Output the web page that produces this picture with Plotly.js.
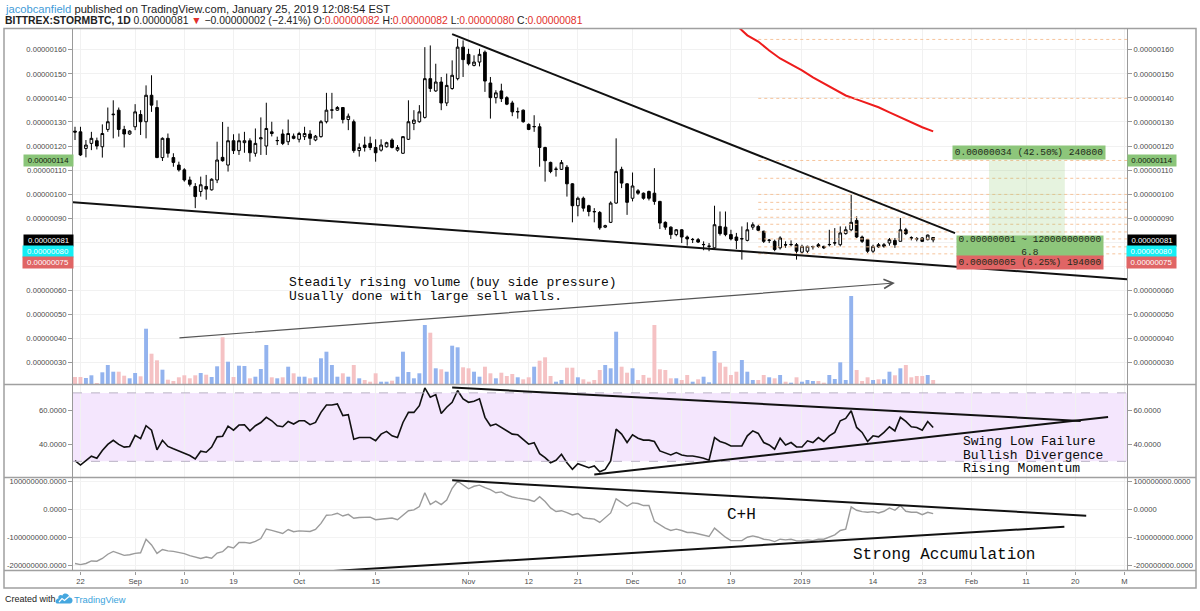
<!DOCTYPE html>
<html><head><meta charset="utf-8">
<script src="https://cdn.plot.ly/plotly-3.0.1.min.js"></script>
<style>html,body{margin:0;padding:0;background:#fff;}#chart{width:1200px;height:611px;}</style>
</head><body><div id="chart"></div>
<script>
// ---------- DATA (prices in satoshi, 1e-8 BTC) ----------
const startDate = '2018-08-21';
const open = [126.2,125.9,119,121.1,122.2,119.7,126.9,133,134.9,126.9,125,128,133.1,130.1,141.1,136,115.2,123.2,115.2,112.1,110.1,105.9,103.2,101.1,103.2,101.8,105.9,115.3,112.1,122.2,118.1,121.4,122.2,117,123,120,125.9,122.2,125,121.8,124.1,122.8,123.9,125,122.5,123.9,130.1,134.9,134.9,136,131,130.1,118.1,120.4,121.1,119.4,118.3,119.7,122.5,118.3,117,122.8,129.4,130.1,131.9,148,142.9,146.6,137.9,143.9,148,161.1,158.1,153.5,154.9,159,146.2,140.1,142.9,140.1,137.9,134.2,134.9,129,128,128,119.4,113.2,110.3,110.3,111.2,104.3,95.2,98.3,95.2,92.8,92.4,86.3,88.3,96.3,110.3,104.3,98.3,101.4,100.4,101.1,100.4,97,88.3,86.3,83.2,85.2,82.2,81.1,81.1,79,78.3,77.7,86.6,86.3,83.2,82.2,81.4,80.8,86.3,86.6,84.6,80.8,80.4,77.7,79,79,79,75.9,76.3,78.1,79,78.3,79,79.7,79,83.6,85.2,89.1,82.2,81.1,76.3,79,78.3,79.7,80.8,80.4,85.2,81.9,81.5,81.8,81.1,82];
const high = [128,128,122.5,125.9,123.5,129,136,139,136,128.4,126.6,137.4,134.9,145.2,149.4,139,123.6,125.2,117,113.5,110.8,107.3,104.6,107.3,108,106.6,121.8,130,128,124.9,125.2,125.9,123.2,127.3,131.9,138,130.1,123.9,126.9,131,125.2,125.9,128,126.6,124.6,130.8,142.1,142.1,136.6,136.2,133.5,131,121.1,123.9,123.9,122.8,122.8,121.8,123.2,120.4,124.1,139,134.9,137,161.1,161.8,154.2,148.7,150.1,155.6,164.6,163.9,160.4,157.7,160.4,159.7,148.7,143.2,145.9,140.7,138.8,136,135.2,129.4,132.8,129.4,119.7,113.5,111.4,114.2,112.1,104.6,99,99,95.6,94.2,93,87.3,97,123.2,111.4,104.6,109,102.1,100.7,101.5,110.8,97.2,88.7,86.6,85.5,85.5,82.8,81.8,81.8,80.4,79.7,95.2,92.8,92.8,85.2,83.9,86.6,88.3,88.3,87.3,84.8,81.4,81.1,82.5,80.4,80.8,79.7,79,78.6,78.6,79.7,78.6,85.2,85.9,86.6,86.6,99.7,90.8,82.8,81.4,79,79.7,79.7,81.8,81.8,90.1,86,82.5,82.2,82.2,83.2,82];
const low = [122.5,115.9,115.3,118.3,118.6,115.2,125.9,123.2,123.9,119.4,124.6,126.6,124.6,123.2,134.2,115,113.8,115.2,111.4,109.4,105.2,103.2,94.2,99,97.7,101.5,104.6,113.5,109.4,116.7,116.3,117.2,113.5,115.6,116.3,116.3,124,120.4,120.4,120.4,122.8,121.5,122.5,120.4,122,123.5,129.4,131.4,134.6,129.4,126.6,117.2,115.6,117.7,118.3,113.5,117.7,119.4,119,117.7,116.7,122.5,126.6,129.7,131.4,142.5,142.5,134.9,136.6,143.4,147.3,148.7,153.5,153.1,153.1,142.5,131.4,137.7,138.3,137,132.4,131.4,129.7,126.6,125.9,111.4,105.2,108.7,107.3,110.1,99,88.3,90.8,92.8,90.8,88.3,85.2,85.9,88,96,102.5,91.4,97,99.7,97.7,97.4,95.6,85.5,85.2,81.4,82.5,79.7,78.6,79.7,79.7,76.7,76.3,77,82.8,82.5,80.8,77.2,72.8,80.4,85.2,84.6,79.7,79.7,76.3,77,77.7,78.3,72.8,75.3,75.6,77,77.7,77.2,78.3,78.6,78.3,83.2,84.6,81.8,79.7,75.6,75.6,77.7,77.7,78.6,77.7,80.4,83,80.8,80.4,80.1,80.8,80];
const close = [125.8,116.3,120.4,123.2,120,125.2,130.1,133.2,126.9,125,126.2,134.2,130.1,141.1,137,115.2,123.2,117,113.2,110.1,105.9,104.1,99,103.9,102.1,106.2,114.2,113.9,122.2,118.1,122.2,122.2,117.2,121.1,123.4,127.3,125.2,122.3,121.1,125.2,123.2,125.2,125.2,123.2,124.1,130.1,134.9,135,136,131,132.4,118.1,119.4,119.4,119.4,117.2,120.4,121.4,119.4,119.4,123.9,130.1,130.8,134.2,148,143.9,146.6,137.9,145.2,149.4,161.1,155.9,154.2,154.9,158.1,147,140.1,142.1,139.7,137.4,134.2,134.3,130.1,126.9,128.1,119.4,113.9,109.4,110.4,113.1,104.3,95.2,98.3,94.2,92.8,92.7,86,86.9,96.3,109.4,104.6,96.6,103.4,100.4,98.3,98.3,97,88,86.3,83.2,85.2,82.2,81.4,81.2,80.1,79.1,78.4,87.3,83.6,83.2,81.4,80.8,81.5,85.2,87.3,85,80.4,80.9,77,81.8,78.9,79.1,76.3,78.3,78.3,78.2,78.3,77.7,79.1,79.8,83.9,85.2,88.3,82.2,80.4,76.3,78.3,78.1,79,81.1,79,85.2,83.6,81.8,81.4,80.4,83,81];
// volume (relative units)
const volume = [7,7,6,8.7,1,11.7,19,12.3,12.3,8.3,5.7,11,7.7,55.3,30.3,23.7,14.3,4.3,3,6.7,8.7,5.7,8.7,11,9.3,7,17.7,46.7,22.3,7,18.3,
18,5.7,7.3,15,39,6.7,5.7,6.7,17.3,10.7,7.3,7.3,5.7,6.7,25.7,32.3,19,7.3,10.7,7.3,19,5.7,4,2.3,10.7,2.3,2.3,3.3,7.3,
32.3,12,5.7,10.7,59,51.3,15.7,14.7,12.3,38.3,36.7,16.7,15.7,12.3,7.3,17.3,10.7,5.7,11.3,8,10,6.7,4.7,6.7,17.3,23.3,26.7,8,2.3,4,16.3,16.3,6.7,4.7,2.3,4,14,
19,15.7,52.3,17.3,11.3,15.7,4,9,6.3,59,14.7,14,5.7,5.7,4,9,2.3,4.7,7.3,1.7,33,21.3,17.3,9,12.3,24,12.3,4,4,9,6.7,5.7,9,2.3,1.3,6.7,2.3,4,3,3,1.3,9,5,21.7,4,88,14,3,6.7,4,4.7,4.7,12.3,8.7,15.7,19,6.7,8,8,9,4];
const rsi = [30.4,27.8,30.4,33,31.8,36.3,39.9,42.3,39.9,38.3,38.7,45.2,43.3,50.8,48.2,36.7,42.3,38.7,37.3,35.9,34.4,33.4,31.4,35.9,35.3,38.3,44.3,44.7,50.6,48.2,
51.2,51.4,47.8,50.8,52.7,55.7,53.7,50.8,50.2,53.3,51.8,53.7,53.7,51.4,52.7,58.6,62.9,62.9,63.5,56.7,57.3,42.9,43.9,43.9,43.9,42,45.9,47.5,44.9,43.9,
52.7,58.6,58.6,62.5,72.9,67.5,69,58,61.6,64.5,71.4,66.5,64.5,65.1,66.5,55.7,50.8,51.8,49.8,47.8,45.9,45.5,42.9,40,40.9,34.5,32.2,29.2,30.6,34.1,
29.2,25.3,28.6,27.3,26.3,27.3,
23.9,25.3,30.2,48.8,45.9,41,45.5,43.5,42.4,42.4,41.6,36.1,35.1,33.7,35.1,33.7,33.1,33.1,32.5,31.8,30.6,43.9,41.6,40.6,39,39,39,44.9,47.8,46.3,
41,39.6,37.1,43.5,39.6,41,38.4,38.4,42,41,43.9,41.6,44.9,46.9,53.7,55.1,59.6,49.8,46.9,41.6,44.9,44.3,46.9,50.2,47.8,55.7,53.3,50.2,49.8,48.2,53.3,49.8];
// OBV in millions
const obv = [-193,-197,-193,-184,-185,-175,-160,-150,-157,-164,-162,-157,-155,-107,-127,-157,-143,-148,-150,-153,
-158,-165,-171,-175,-170,-174,-156,-151,-133,-138,-118,-118,-121,-114,-104,-70,-75,-80,-86,-72,
-80,-77,-77,-79,-72,-50,-21,-20,-14,-24,-18,-32,-29,-28,-28,-37,-35,-34,-31,-37,
-22,-5,-2,10,59,17,29,17,33,75,100,85,73,82,86,77,70,59,62,51,44,40,37,34,28,45,28,5,-8,-5,-12,-20,-15,-30,-33,-35,
-46.7,-31,-13,37.3,22.9,10.9,22.9,20.5,13.3,13.3,-43,-55,-67,-75.5,-70.7,-75.5,-82.6,-82.6,-87.4,-94.6,-97,-67,-85,-99.4,-111.4,-111.4,-111.4,-99.4,-94.6,-99.4,
-106.6,-109,-115,-106.6,-109,-106.6,-112.6,-111.4,-109,-111.4,-106.6,-106.6,-99.4,-91,-75.5,-70.7,8.5,-3.5,-8.3,-10.7,-8.3,-13,-7,4.9,-3.5,13.3,-7,-10.7,-10.7,-19.1,-10.7,-15.5];
// red moving average
const maDates = ['2018-12-20','2018-12-22','2018-12-24','2018-12-26','2018-12-28','2018-12-30','2019-01-01','2019-01-03','2019-01-05','2019-01-07','2019-01-09','2019-01-11','2019-01-13','2019-01-15','2019-01-17','2019-01-19','2019-01-21','2019-01-23','2019-01-25'];
const maValues = [170.2,166,163.4,159.7,156.4,153.9,151.4,148.5,146,143.5,141,139.4,137.7,136.1,134,131.9,129.8,127.8,126.1];
// horizontal levels (dotted orange)
const levelStart = '2018-12-24';
const levels = [164.3,139.8,114,106.6,99.9,96.6,93.7,90.4,87.5,84.3,81.4,78.1,75.2];
// long position tool
const posStart = '2019-02-04 05:00', posEnd = '2019-02-18 02:00';
const posEntry = 80, posTarget = 114, posStop = 75;
// trend lines [date0, v0, date1, v1]
const priceUpper = ['2018-10-29',166.48,'2019-01-29',83.8];
const priceLower = ['2018-08-20',96.73,'2019-03-02',64.58];
const rsiUpper = ['2018-10-29',73.13,'2019-02-21',53.59];
const rsiLower = ['2018-11-24',22.37,'2019-02-26',55.93];
const obvUpper = ['2018-10-29',103.4,'2019-02-22',-22.6];
const obvLower = ['2018-10-05',-222.5,'2019-02-18',-62.3];
const volArrow = ['2018-09-08 20:00',46,'2019-01-18',101];
// axis ticks
const tickDates = ['2018-08-22','2018-09-01','2018-09-10','2018-09-19','2018-10-01','2018-10-15','2018-11-01','2018-11-12','2018-11-21','2018-12-01','2018-12-10','2018-12-19','2019-01-01','2019-01-14','2019-01-23','2019-02-01','2019-02-11','2019-02-20','2019-03-01'];
const tickLabels = ['22','Sep','10','19','Oct','15','Nov','12','21','Dec','10','19','2019','14','23','Feb','11','20','M'];
const priceTicks = [30,40,50,60,70,80,90,100,110,120,130,140,150,160];
const hiddenPriceTicks = [70,80]; // covered by the price badges
const rsiTicks = [40,60];
const obvTicks = [-200,-100,0,100];

// ---------- BUILD ----------
const W = 1200, H = 611;
const px = x => x / W, py = y => 1 - y / H;
const P = (x, y) => `${px(x)},${py(y)}`;
const S = 1e-8;
const t0 = Date.UTC(2018, 7, 21);
const dates = open.map((_, i) => new Date(t0 + i * 864e5).toISOString().slice(0, 10));
const volColors = open.map((o, i) => close[i] >= o ? '#93b3ee' : '#f5c2c4');
const sc = a => a.map(v => v * S);

const tickFont = {family: 'Liberation Sans, Arial, sans-serif', size: 7.6, color: '#4a4a4a'};
const yCommon = {fixedrange: true, zeroline: false, showline: false, ticks: 'outside', ticklen: 4, tickcolor: '#9a9a9a', tickfont: tickFont};

const priceRange = [21.12 * S, 168.84 * S];
const rsiRange = [20.55, 74.9];
const obvRange = [-218e6, 113.3e6];

const priceTickText = priceTicks.map(v => hiddenPriceTicks.includes(v) ? '' : (v * S).toFixed(8));
const rsiTickText = rsiTicks.map(v => v.toFixed(4));
const obvTickText = obvTicks.map(v => (v * 1e6).toFixed(4));

const traces = [
  {type: 'bar', x: dates, y: volume, yaxis: 'y', marker: {color: volColors, line: {width: 0}}, width: 0.72 * 864e5, hoverinfo: 'skip'},
  {type: 'candlestick', x: dates, open: sc(open), high: sc(high), low: sc(low), close: sc(close), yaxis: 'y4', whiskerwidth: 0,
   increasing: {line: {color: '#000', width: 1}, fillcolor: '#fff'},
   decreasing: {line: {color: '#000', width: 1}, fillcolor: '#000'}, hoverinfo: 'skip'},
  {type: 'scatter', mode: 'lines', x: maDates, y: sc(maValues), yaxis: 'y4', line: {color: '#ee1c1c', width: 2}, hoverinfo: 'skip'},
  {type: 'scatter', mode: 'markers', x: [dates[0]], y: [close[0] * S], yaxis: 'y5', marker: {opacity: 0}, hoverinfo: 'skip'},
  {type: 'scatter', mode: 'lines', x: dates, y: rsi, yaxis: 'y2', line: {color: '#111', width: 1.6}, hoverinfo: 'skip'},
  {type: 'scatter', mode: 'markers', x: [dates[0]], y: [rsi[0]], yaxis: 'y6', marker: {opacity: 0}, hoverinfo: 'skip'},
  {type: 'scatter', mode: 'lines', x: dates, y: obv.map(v => v * 1e6), yaxis: 'y3', line: {color: '#9b9b9b', width: 1.4}, hoverinfo: 'skip'},
  {type: 'scatter', mode: 'markers', x: [dates[0]], y: [obv[0] * 1e6], yaxis: 'y7', marker: {opacity: 0}, hoverinfo: 'skip'}
];

const shapes = [];
// RSI band
shapes.push({type: 'rect', xref: 'x domain', x0: 0, x1: 1, yref: 'y2', y0: 30, y1: 70, fillcolor: '#f4e6fd', line: {width: 0}, layer: 'below'});
[30, 70].forEach(v => shapes.push({type: 'line', xref: 'x domain', x0: 0, x1: 1, yref: 'y2', y0: v, y1: v, line: {color: '#b9b1c4', width: 1, dash: 'dash'}}));
// levels
levels.forEach(v => shapes.push({type: 'line', xref: 'x', yref: 'y4', x0: levelStart, x1: '2019-03-08', y0: v * S, y1: v * S, line: {color: '#f6c49c', width: 1, dash: 'dot'}}));
// position zones
shapes.push({type: 'rect', xref: 'x', yref: 'y4', x0: posStart, x1: posEnd, y0: posEntry * S, y1: posTarget * S, fillcolor: 'rgba(140,200,110,0.22)', line: {width: 0}});
shapes.push({type: 'rect', xref: 'x', yref: 'y4', x0: posStart, x1: posEnd, y0: posStop * S, y1: posEntry * S, fillcolor: 'rgba(230,100,100,0.2)', line: {width: 0}});
// trend lines
const tl = (a, yref, k) => ({type: 'line', xref: 'x', yref, x0: a[0], y0: a[1] * k, x1: a[2], y1: a[3] * k, line: {color: '#111', width: 2}});
shapes.push(tl(priceUpper, 'y4', S), tl(priceLower, 'y4', S), tl(rsiUpper, 'y2', 1), tl(rsiLower, 'y2', 1), tl(obvUpper, 'y3', 1e6), tl(obvLower, 'y3', 1e6));
// frame
const fr = {color: '#a0a0a0', width: 1.5};
const pl = (x0, y0, x1, y1, line) => ({type: 'line', xref: 'paper', yref: 'paper', x0: px(x0), y0: py(y0), x1: px(x1), y1: py(y1), line: line || fr});
shapes.push({type: 'rect', xref: 'paper', yref: 'paper', x0: px(4), x1: px(1196), y0: py(588), y1: py(28.5), line: fr});
shapes.push(pl(4, 384.5, 1196, 384.5), pl(4, 477.5, 1196, 477.5), pl(4, 570.5, 1196, 570.5));
shapes.push(pl(72.5, 28.5, 72.5, 570.5, {color: '#9a9a9a', width: 1}), pl(1127.5, 28.5, 1127.5, 570.5, {color: '#9a9a9a', width: 1}));
// logo
shapes.push({type: 'path', xref: 'paper', yref: 'paper', fillcolor: '#45a7df', line: {width: 0},
  path: `M${P(57,603.5)} L${P(70,603.5)} C${P(73.5,603.5)} ${P(73.5,597)} ${P(69.5,597.5)} C${P(69,593)} ${P(63.5,592.5)} ${P(62.5,595.5)} C${P(60.5,594)} ${P(57.5,595.5)} ${P(58.5,598.5)} C${P(55,599)} ${P(55,603.5)} ${P(57,603.5)} Z`});
shapes.push({type: 'path', xref: 'paper', yref: 'paper', line: {color: '#fff', width: 1.2},
  path: `M${P(59,602)} L${P(62,598.5)} L${P(64.5,600.5)} L${P(69,596.5)}`});

const mono = 'Liberation Mono, Courier New, monospace';
const sans = 'Liberation Sans, Arial, sans-serif';
const ann = [];
const txt = (x, y, text, size, extra) => Object.assign({xref: 'paper', yref: 'paper', x: px(x), y: py(y), xanchor: 'left', yanchor: 'middle', text, showarrow: false, font: {family: mono, size, color: '#0a0a0a'}}, extra || {});
// header
const red = s => `<span style="color:#e2302b">${s}</span>`;
ann.push(txt(3, 8.5, '<span style="color:#3f9bd8">jacobcanfield</span> published on TradingView.com, January 25, 2019 12:08:54 EST', 11.2, {font: {family: sans, size: 11.2, color: '#222'}}));
ann.push(txt(3, 20, `<b>BITTREX:STORMBTC, 1D</b> 0.00000081 ${red('▼')} −0.00000002 (−2.41%) O:${red('0.00000082')} H:${red('0.00000082')} L:${red('0.00000080')} C:${red('0.00000081')}`, 10.4, {font: {family: sans, size: 10.4, color: '#222'}}));
// footer
ann.push(txt(3, 599, 'Created with', 9, {font: {family: sans, size: 9, color: '#222'}}));
ann.push(txt(72, 599, 'TradingView', 9.4, {font: {family: sans, size: 9.4, color: '#3ba3dc'}}));
// notes
ann.push(txt(287, 282, 'Steadily rising volume (buy side pressure)', 13));
ann.push(txt(287, 296, 'Usually done with large sell walls.', 13));
ann.push(txt(961, 441.5, 'Swing Low Failure', 13));
ann.push(txt(961, 455, 'Bullish Divergence', 13));
ann.push(txt(961, 468, 'Rising Momentum', 13));
ann.push(txt(725, 515, 'C+H', 16));
ann.push(txt(851, 555, 'Strong Accumulation', 16));
// arrow
ann.push({xref: 'x', yref: 'y', axref: 'x', ayref: 'y', x: volArrow[2], y: volArrow[3], ax: volArrow[0], ay: volArrow[1], text: '', showarrow: true, arrowhead: 5, arrowsize: 1.5, arrowwidth: 1.2, arrowcolor: '#555', standoff: 0});
// position labels
const box = (cx, cy, w, h, text, bg) => ({xref: 'paper', yref: 'paper', x: px(cx), y: py(cy), xanchor: 'center', yanchor: 'middle', width: w, height: h, text, showarrow: false, bgcolor: bg, borderpad: 0, font: {family: mono, size: 9.5, color: '#1f2a1a'}});
ann.push(box(1029, 152.5, 152, 13, '0.00000034 (42.50%) 240800', '#8dc67b'));
ann.push(box(1030, 246, 146, 20, '0.00000001 ~ 120000000000<br>6.8', '#8dc67b'));
ann.push(box(1030, 262.5, 146, 13, '0.00000005 (6.25%) 194000', '#e06565'));
// price badges
const badge = (cx, cy, text, bg, fg, w) => ({xref: 'paper', yref: 'paper', x: px(cx), y: py(cy), xanchor: 'center', yanchor: 'middle', width: w || 47, height: 11, text, showarrow: false, bgcolor: bg, borderpad: 0, font: {family: sans, size: 7.8, color: fg}});
[[48.5, 49], [1151.5, 48]].forEach(([cx, w]) => {
  ann.push(badge(cx, 160.5, (posTarget * S).toFixed(8), '#8ac579', '#14200f', w));
  ann.push(badge(cx, 240.5, (close[close.length - 1] * S).toFixed(8), '#000', '#fff', w));
  ann.push(badge(cx, 251.5, (posEntry * S).toFixed(8), '#14eef4', '#fff', w + 1));
  ann.push(badge(cx, 262.5, (posStop * S).toFixed(8), '#e06565', '#fff', w + 1));
});

const layout = {
  width: W, height: H, margin: {l: 0, r: 0, t: 0, b: 0}, paper_bgcolor: '#fff', plot_bgcolor: '#fff',
  showlegend: false, hovermode: false, dragmode: false,
  xaxis: {domain: [px(73), px(1127)], anchor: 'y3', type: 'date', range: ['2018-08-20 15:13', '2019-03-01 11:03'],
    tickmode: 'array', tickvals: tickDates, ticktext: tickLabels, ticks: 'outside', ticklen: 3, tickcolor: '#9a9a9a',
    tickfont: tickFont, showgrid: true, gridcolor: '#f1f1f1', showline: false, zeroline: false, fixedrange: true, rangeslider: {visible: false}},
  yaxis: {domain: [py(384), py(28.5)], range: [0, 355.5], visible: false, fixedrange: true},
  yaxis4: Object.assign({}, yCommon, {overlaying: 'y', side: 'left', range: priceRange, tickmode: 'array', tickvals: priceTicks.map(v => v * S), ticktext: priceTickText, showgrid: true, gridcolor: '#f1f1f1'}),
  yaxis5: Object.assign({}, yCommon, {overlaying: 'y', side: 'right', range: priceRange, tickmode: 'array', tickvals: priceTicks.map(v => v * S), ticktext: priceTickText, showgrid: false}),
  yaxis2: Object.assign({}, yCommon, {domain: [py(477.5), py(384.5)], anchor: 'x', range: rsiRange, tickmode: 'array', tickvals: rsiTicks, ticktext: rsiTickText, showgrid: false}),
  yaxis6: Object.assign({}, yCommon, {overlaying: 'y2', side: 'right', range: rsiRange, tickmode: 'array', tickvals: rsiTicks, ticktext: rsiTickText, showgrid: false}),
  yaxis3: Object.assign({}, yCommon, {domain: [py(570.5), py(477.5)], anchor: 'x', range: obvRange, tickmode: 'array', tickvals: obvTicks.map(v => v * 1e6), ticktext: obvTickText, showgrid: true, gridcolor: '#f3f3f3'}),
  yaxis7: Object.assign({}, yCommon, {overlaying: 'y3', side: 'right', range: obvRange, tickmode: 'array', tickvals: obvTicks.map(v => v * 1e6), ticktext: obvTickText, showgrid: false}),
  shapes, annotations: ann
};

Plotly.newPlot('chart', traces, layout, {staticPlot: true, displayModeBar: false});
</script>
</body></html>
